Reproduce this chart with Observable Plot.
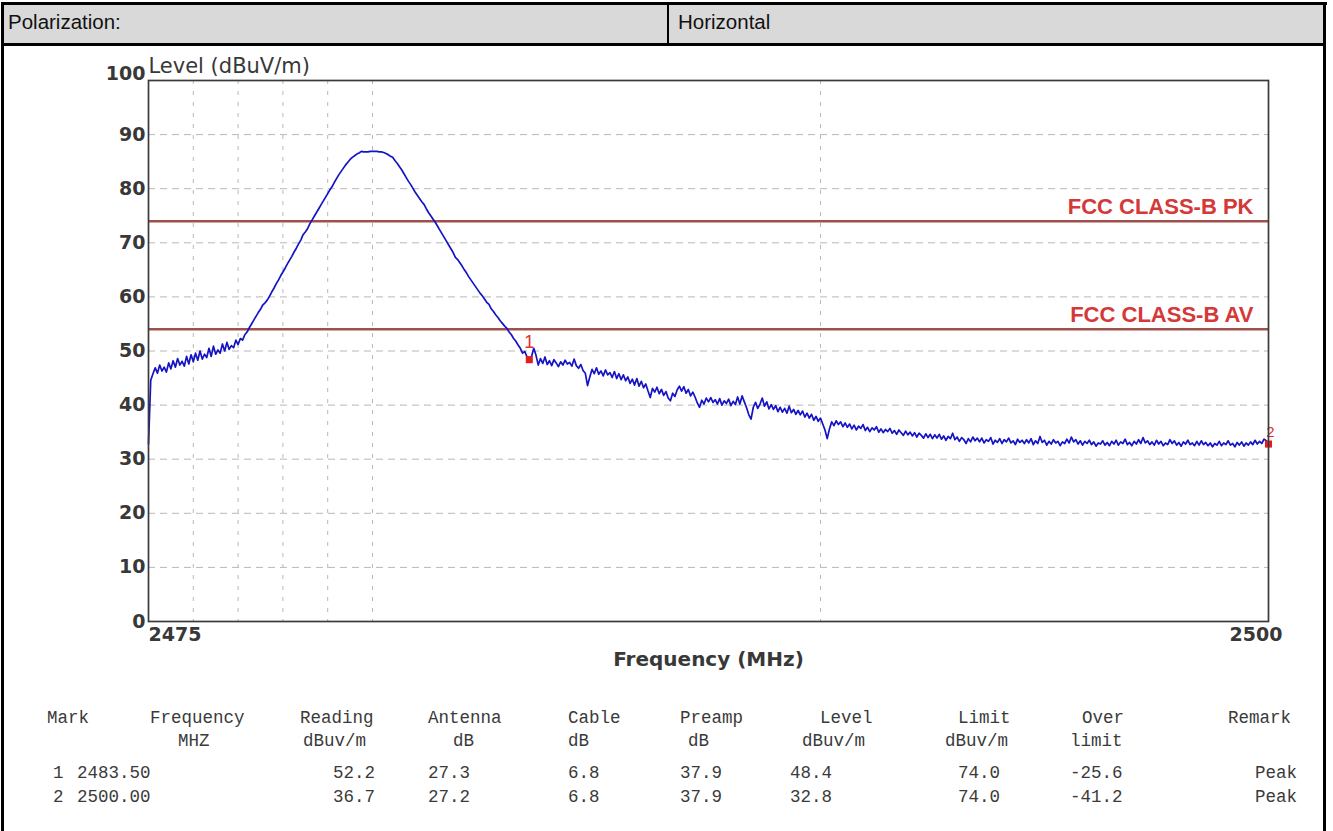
<!DOCTYPE html>
<html>
<head>
<meta charset="utf-8">
<script src="https://cdn.jsdelivr.net/npm/d3@7"></script>
<script src="https://cdn.jsdelivr.net/npm/@observablehq/plot@0.6"></script>
<style>
  html, body { margin: 0; padding: 0; background: #fff; }
  #page { position: relative; width: 1333px; height: 831px; overflow: hidden; font-family: "Liberation Sans", Arial, sans-serif; }
  #head { position: absolute; left: 3px; top: 4px; width: 1321px; height: 40px; background: #d9d9d9; }
  .ln { position: absolute; background: #000; }
  .htxt { position: absolute; top: 10px; font-size: 20.5px; color: #111; line-height: 24px; }
  #chart { position: absolute; left: 0; top: 45px; }
  .cell { position: absolute; font-family: "Liberation Mono", "DejaVu Sans Mono", monospace; font-size: 17.5px; color: #3a3a3a; line-height: 20px; white-space: pre; }
</style>
</head>
<body>
<div id="page">
  <div id="head"></div>
  <div id="chart"></div>
  <div id="table"></div>
  <div class="htxt" style="left:8px">Polarization:</div>
  <div class="htxt" style="left:678px">Horizontal</div>
  <div class="ln" style="left:1px;top:2px;width:1326px;height:3px"></div>
  <div class="ln" style="left:1px;top:2px;width:3px;height:829px"></div>
  <div class="ln" style="left:1323px;top:2px;width:3px;height:829px"></div>
  <div class="ln" style="left:1px;top:43px;width:1325px;height:3px"></div>
  <div class="ln" style="left:667px;top:2px;width:2px;height:42px"></div>
</div>
<script>
// ---------------- data ----------------
const sweepStart = 2475;   // MHz
const sweepStep = 0.05;    // MHz
const levels = [
  // 2475.00 - 2477.20
  32.8, 44.6, 45.8, 46.9, 45.9, 47.4, 46.3, 47.0, 46.1, 47.8,
  46.7, 48.2, 47.0, 48.6, 47.4, 48.1, 47.2, 49.0, 47.6, 49.3,
  48.0, 49.6, 48.3, 50.0, 48.5, 49.4, 48.8, 50.5, 49.0, 50.9,
  49.4, 50.2, 49.6, 51.3, 50.0, 51.6, 50.3, 51.0, 50.6, 52.0,
  51.2, 52.3, 52.0, 53.0, 53.5,
  // 2477.25 - 2483.50
  54.3, 55.0, 55.7, 56.4, 57.1, 57.7, 58.5, 58.9, 59.4, 60.1, 60.9, 61.6, 62.4, 63.1, 63.9, 64.6, 65.3, 66.1, 66.8, 67.5,
  68.3, 69.0, 69.8, 70.5, 71.5, 72.0, 72.6, 73.5, 74.2, 74.9, 75.6, 76.3, 77.0, 77.7, 78.4, 79.1, 79.8, 80.4, 81.2, 81.9,
  82.6, 83.2, 83.8, 84.4, 84.9, 85.4, 85.8, 86.1, 86.4, 86.6, 86.9, 86.8, 86.8, 86.8, 86.9, 86.9, 86.9, 86.9, 86.8, 86.8,
  86.7, 86.5, 86.3, 86.0, 85.8, 85.2, 84.7, 84.1, 83.5, 82.8, 82.1, 81.4, 80.8, 80.1, 79.4, 78.8, 78.2, 77.6, 77.1, 76.3,
  75.6, 75.0, 74.4, 73.8, 73.1, 72.4, 71.7, 71.0, 70.3, 69.6, 68.9, 68.2, 67.3, 66.9, 66.3, 65.7, 65.0, 64.4, 63.7, 63.1,
  62.5, 61.9, 61.3, 60.7, 60.2, 59.6, 59.0, 58.6, 57.8, 57.3, 56.7, 56.2, 55.6, 55.1, 54.6, 54.2, 53.5, 53.0, 52.3, 51.8,
  51.1, 50.5, 49.6, 49.9, 48.9, 48.4,
  // 2483.55 - 2500.00
  49.0, 50.5, 49.2, 47.4, 48.6, 47.7, 48.9, 47.5, 48.2, 47.3, 48.4, 47.8, 47.1, 48.0, 47.4, 48.3, 47.6, 47.9, 47.2, 48.5,
  47.3, 46.8, 47.5, 46.4, 45.9, 43.6, 45.2, 46.6, 45.8, 46.9, 45.7, 46.3, 45.4, 46.5, 45.6, 46.0, 45.1, 46.2, 44.9, 45.8,
  44.7, 45.6, 44.5, 45.2, 44.0, 44.8, 43.7, 44.9, 43.5, 44.4, 43.2, 43.9, 42.6, 41.4, 43.1, 42.4, 43.3, 42.1, 42.9, 41.8,
  42.5, 41.3, 40.8, 42.2, 41.6, 42.8, 43.5, 42.6, 43.4, 42.2, 42.9, 41.7, 42.4, 41.5, 40.4, 39.6, 40.9, 40.2, 41.3, 40.6,
  41.4, 40.5, 41.0, 40.2, 41.2, 40.0, 40.8, 40.3, 41.1, 39.9, 40.7, 40.1, 41.5, 40.2, 41.7, 40.6, 39.5, 38.2, 37.4, 39.6,
  40.5, 39.4, 40.2, 41.3, 39.8, 40.6, 39.3, 40.1, 39.2, 39.9, 38.8, 39.6, 38.7, 39.4, 38.5, 39.8, 38.6, 39.2, 38.3, 39.0,
  38.2, 38.9, 37.8, 38.5, 37.6, 38.3, 37.2, 37.9, 37.0, 37.6, 36.5, 35.4, 33.8, 35.6, 36.9, 36.2, 37.1, 36.4, 36.9, 36.0,
  36.7, 35.9, 36.5, 35.6, 36.3, 35.4, 36.1, 35.7, 36.4, 35.3, 35.9, 35.1, 35.8, 35.4, 36.0, 35.0, 35.6, 34.9, 35.5, 35.1,
  35.7, 34.8, 35.3, 34.6, 35.4, 34.9, 34.4, 35.2, 34.5, 35.0, 34.3, 34.9, 34.1, 34.8, 34.4, 33.9, 34.7, 34.0, 34.6, 33.8,
  34.5, 33.9, 34.6, 33.7, 34.3, 33.5, 34.2, 33.8, 34.8, 33.6, 34.1, 33.3, 34.0, 33.6, 32.9, 33.8, 33.2, 34.1, 33.4, 33.9,
  33.2, 33.9, 33.0, 33.6, 33.3, 34.0, 32.8, 33.5, 33.1, 33.8, 32.9, 33.6, 33.2, 33.9, 33.0, 33.4, 32.7, 33.7, 33.1, 33.5,
  32.9, 33.6, 33.0, 33.8, 32.7, 33.4, 32.9, 34.2, 33.1, 33.5, 32.6, 33.3, 32.8, 33.6, 33.0, 33.3, 32.5, 33.2, 32.9, 33.7,
  33.0, 34.1, 33.2, 33.6, 32.8, 33.4, 32.6, 33.3, 32.9, 33.5, 32.7, 33.2, 32.4, 33.0, 32.8, 33.4, 32.6, 33.1, 32.5, 33.3,
  32.8, 33.5, 32.6, 33.2, 32.9, 33.7, 32.7, 33.1, 32.5, 33.3, 32.8, 33.6, 32.9, 34.0, 33.0, 33.4, 32.7, 33.2, 32.6, 33.5,
  32.8, 33.3, 32.5, 33.0, 32.7, 33.6, 32.9, 33.4, 32.6, 33.1, 32.4, 33.2, 32.8, 33.5, 32.7, 33.0, 32.5, 33.3, 32.6, 33.4,
  32.7, 33.1, 32.5, 33.0, 32.3, 32.9, 32.6, 33.3, 32.5, 33.0, 32.7, 33.4, 32.6, 32.9, 32.3, 33.1, 32.6, 33.2, 32.4, 33.0,
  32.6, 33.2, 32.7, 33.5, 32.8, 33.3, 32.9, 33.7, 33.4, 32.8
];

const limitValues = [74, 54];
const limitLabels = ["FCC CLASS-B PK", "FCC CLASS-B AV"];

const yTickValues = [0, 10, 20, 30, 40, 50, 60, 70, 80, 90];
const yTopTick = [100];
const xTickLabels = [2475, 2500];
const xGridValues = [2476, 2477, 2478, 2479, 2480, 2490];
const yGridValues = [10, 20, 30, 40, 50, 60, 70, 80, 90];

const markIds = [1, 2];
const markFreqs = ["2483.50", "2500.00"];
const markReading = ["52.2", "36.7"];
const markAntenna = ["27.3", "27.2"];
const markCable = ["6.8", "6.8"];
const markPreamp = ["37.9", "37.9"];
const markLevel = ["48.4", "32.8"];
const markLimit = ["74.0", "74.0"];
const markOver = ["-25.6", "-41.2"];
const markRemark = ["Peak", "Peak"];

const tableHead1 = ["Mark", "Frequency", "Reading", "Antenna", "Cable", "Preamp", "Level", "Limit", "Over", "Remark"];
const tableHead2 = ["", "MHZ", "dBuv/m", "dB", "dB", "dB", "dBuv/m", "dBuv/m", "limit", ""];

// ---------------- build tables for Plot ----------------
const trace = levels.map((v, i) => ({f: +(sweepStart + i * sweepStep).toFixed(2), v}));
const limits = limitValues.map((v, i) => ({value: v, label: limitLabels[i]}));
const markers = markIds.map((id, i) => ({id: String(id), f: +markFreqs[i], v: +markLevel[i]}));

const tickFont = "DejaVu Sans";
const chart = Plot.plot({
  width: 1320,
  height: 640,
  marginLeft: 148,
  marginRight: 52,
  marginTop: 35,
  marginBottom: 64,
  x: {domain: [2475, 2500], axis: null},
  y: {domain: [0, 100], axis: null},
  style: {background: "transparent", overflow: "visible"},
  marks: [
    Plot.gridY(yGridValues, {stroke: "#b8b8b8", strokeOpacity: 1, strokeWidth: 1, strokeDasharray: "7,5"}),
    Plot.gridX(xGridValues, {stroke: "#b8b8b8", strokeOpacity: 1, strokeWidth: 1, strokeDasharray: "4,7"}),
    Plot.ruleY(limits, {y: "value", stroke: "#a0504b", strokeWidth: 2.5}),
    Plot.text(limits, {x: 2500, y: "value", text: "label", textAnchor: "end", lineAnchor: "bottom", dx: -15, dy: -7,
      fill: "#d43838", fontWeight: "bold", fontSize: 22, fontFamily: "Liberation Sans"}),
    Plot.line(trace, {x: "f", y: "v", stroke: "#1414c4", strokeWidth: 1.7}),
    Plot.dot(markers, {x: "f", y: "v", symbol: "square", r: 4, fill: "#e02020", stroke: "none"}),
    Plot.text(markers.slice(0, 1), {x: "f", y: "v", text: "id", dy: -17, fill: "#e03030", fontSize: 18, fontFamily: "Liberation Sans"}),
    Plot.text(markers.slice(1), {x: "f", y: "v", text: "id", dx: 2, dy: -12, fill: "#e03030", fontSize: 15, fontFamily: "Liberation Sans"}),
    Plot.frame({stroke: "#3a3a3a", strokeWidth: 1.7}),
    Plot.text(yTickValues, {y: d => d, text: d => String(d), frameAnchor: "left", textAnchor: "end", dx: -3,
      fontSize: 19, fontWeight: "bold", fontFamily: tickFont, fill: "#383838"}),
    Plot.text(yTopTick, {y: d => d, text: d => String(d), frameAnchor: "left", textAnchor: "end", dx: -3, dy: -7,
      fontSize: 19, fontWeight: "bold", fontFamily: tickFont, fill: "#383838"}),
    Plot.text(xTickLabels.slice(0, 1), {x: d => d, text: d => String(d), frameAnchor: "bottom", textAnchor: "start", dy: 19,
      fontSize: 19, fontWeight: "bold", fontFamily: tickFont, fill: "#383838"}),
    Plot.text(xTickLabels.slice(1), {x: d => d, text: d => String(d), frameAnchor: "bottom", textAnchor: "end", dx: 14, dy: 19,
      fontSize: 19, fontWeight: "bold", fontFamily: tickFont, fill: "#383838"}),
    Plot.text(["Level (dBuV/m)"], {frameAnchor: "top-left", textAnchor: "start", lineAnchor: "bottom", dy: -8,
      fontSize: 21, fontFamily: tickFont, fill: "#383838"}),
    Plot.text(["Frequency (MHz)"], {frameAnchor: "bottom", textAnchor: "middle", dy: 44,
      fontSize: 20, fontWeight: "bold", fontFamily: tickFont, fill: "#383838"})
  ]
});
document.getElementById("chart").appendChild(chart);

// ---------------- table below the chart ----------------
const table = document.getElementById("table");
function cell(txt, x, yc) {
  const s = document.createElement("div");
  s.className = "cell";
  s.textContent = txt;
  s.style.left = x + "px";
  s.style.top = (yc - 10) + "px";
  table.appendChild(s);
}
const head1X = [47, 150, 300, 428, 568, 680, 820, 958, 1082, 1228];
const head2X = [0, 178, 303, 453, 568, 688, 802, 945, 1070, 0];
tableHead1.forEach((t, i) => cell(t, head1X[i], 718));
tableHead2.forEach((t, i) => { if (t) cell(t, head2X[i], 741); });
const rowY = [773, 797];
const rowX = [53, 77, 333, 428, 568, 680, 790, 958, 1070, 1255];
markIds.forEach((id, r) => {
  const vals = [String(id), markFreqs[r], markReading[r], markAntenna[r], markCable[r], markPreamp[r],
                markLevel[r], markLimit[r], markOver[r], markRemark[r]];
  vals.forEach((t, i) => cell(t, rowX[i], rowY[r]));
});
</script>
</body>
</html>
